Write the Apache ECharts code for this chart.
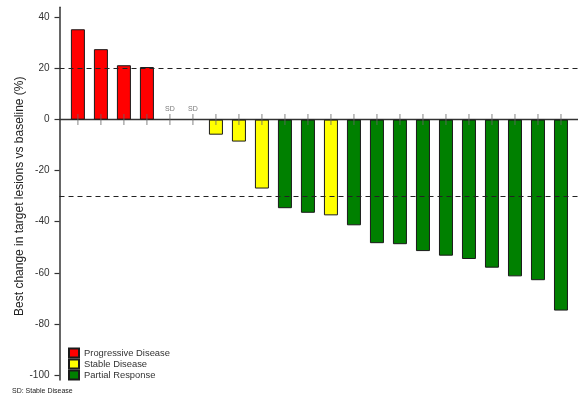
<!DOCTYPE html>
<html>
<head>
<meta charset="utf-8">
<script src="https://cdn.jsdelivr.net/npm/echarts@6/dist/echarts.min.js"></script>
<style>
  html, body { margin: 0; padding: 0; background: #fff; }
  #chart { width: 578px; height: 398px; }
</style>
</head>
<body>
<div id="chart"></div>
<script>
// Best percentage change in target lesions per patient, sorted (waterfall)
const patients = [1, 2, 3, 4, 5, 6, 7, 8, 9, 10, 11, 12, 13, 14, 15, 16, 17, 18, 19, 20, 21, 22];
const bestChange = [35.4, 27.6, 21.3, 20.6, 0, 0, -5.9, -8.6, -27.0, -34.7, -36.5, -37.5,
                    -41.4, -48.4, -48.8, -51.5, -53.3, -54.6, -58.0, -61.4, -62.9, -74.8];
const response = ['PD', 'PD', 'PD', 'PD', 'SD', 'SD', 'SD', 'SD', 'SD', 'PR', 'PR', 'SD',
                  'PR', 'PR', 'PR', 'PR', 'PR', 'PR', 'PR', 'PR', 'PR', 'PR'];
const groups = [
  { key: 'PD', name: 'Progressive Disease', color: '#ff0000' },
  { key: 'SD', name: 'Stable Disease', color: '#ffff00' },
  { key: 'PR', name: 'Partial Response', color: '#008000' }
];
const yTickMin = -100;
const yTickMax = 40;
const yTickStep = 20;
const thresholds = [20, -30];

// Plot range: the axis line runs a little past the outer ticks
const yMin = -102;
const yMax = 44;
const plotTop = 7.3;
const plotBottom = 380;
const pxPerUnit = (plotBottom - plotTop) / (yMax - yMin);

const chart = echarts.init(document.getElementById('chart'));

const barSeries = groups.map((g, gi) => {
  const data = [];
  bestChange.forEach((v, i) => {
    if (response[i] === g.key && v !== 0) data.push([i, v]);
  });
  const s = {
    name: g.name,
    type: 'bar',
    xAxisIndex: 0,
    yAxisIndex: 0,
    data: data,
    barWidth: 14,
    barGap: '-100%',
    itemStyle: { color: g.color, borderColor: '#1a1a1a', borderWidth: 1 },
    emphasis: { disabled: true },
    z: 2
  };
  if (gi === 0) {
    s.markLine = {
      silent: true,
      symbol: 'none',
      label: { show: false },
      lineStyle: { color: '#222', type: [5, 4], width: 1.2 },
      data: thresholds.map(t => ({ yAxis: t }))
    };
  }
  return s;
});

// Patient tick marks crossing the zero line; "SD" flags unchanged lesions
const tickData = patients.map((p, i) => {
  const item = { value: [i, 0] };
  if (bestChange[i] === 0) {
    item.label = { show: true, formatter: 'SD' };
  }
  return item;
});

const fontFamily = 'Liberation Sans, Arial, sans-serif';

chart.setOption({
  animation: false,
  textStyle: { fontFamily: fontFamily },
  grid: [
    { left: 59.5, right: 0, top: plotTop, bottom: 398 - plotBottom, containLabel: false },
    // tick/label scale covering exactly -100..40 on the same pixel scale
    {
      left: 59.5, width: 1,
      top: plotTop + (yMax - yTickMax) * pxPerUnit,
      bottom: 398 - (plotBottom - (yTickMin - yMin) * pxPerUnit),
      containLabel: false
    }
  ],
  legend: {
    orient: 'vertical',
    left: 68,
    top: 347.5,
    padding: 0,
    itemWidth: 10,
    itemHeight: 9,
    itemGap: 0,
    icon: 'rect',
    selectedMode: false,
    data: groups.map(g => g.name),
    textStyle: { fontSize: 9.4, lineHeight: 11, color: '#333' }
  },
  xAxis: [{
    type: 'value',
    gridIndex: 0,
    min: -0.8,
    max: 21.74,
    axisLine: { show: true, onZero: true, lineStyle: { color: '#333', width: 1.3 } },
    axisTick: { show: false },
    axisLabel: { show: false },
    splitLine: { show: false }
  }, {
    type: 'value',
    gridIndex: 1,
    show: false
  }],
  yAxis: [{
    type: 'value',
    gridIndex: 0,
    min: yMin,
    max: yMax,
    axisLine: { show: true, onZero: false, lineStyle: { color: '#333', width: 1.5 } },
    axisTick: { show: false },
    axisLabel: { show: false },
    splitLine: { show: false }
  }, {
    type: 'value',
    gridIndex: 1,
    min: yTickMin,
    max: yTickMax,
    interval: yTickStep,
    name: 'Best change in target lesions vs baseline (%)',
    nameLocation: 'middle',
    nameRotate: 90,
    nameGap: 31,
    nameTextStyle: { fontSize: 12, color: '#222' },
    axisLine: { show: false, onZero: false },
    axisTick: { show: true, length: 5, lineStyle: { color: '#333', width: 1.2 } },
    axisLabel: { fontSize: 10, color: '#333', margin: 10 },
    splitLine: { show: false }
  }],
  series: barSeries.concat([{
    type: 'scatter',
    xAxisIndex: 0,
    yAxisIndex: 0,
    data: tickData,
    symbol: 'rect',
    symbolSize: [1, 11],
    itemStyle: { color: '#666' },
    label: { show: false, position: 'top', distance: 2, fontSize: 7, color: '#555' },
    silent: true,
    z: 3
  }]),
  graphic: [{
    type: 'text',
    left: 12,
    top: 388,
    style: { text: 'SD: Stable Disease', fontSize: 7, fill: '#222', fontFamily: fontFamily }
  }]
});
</script>
</body>
</html>
